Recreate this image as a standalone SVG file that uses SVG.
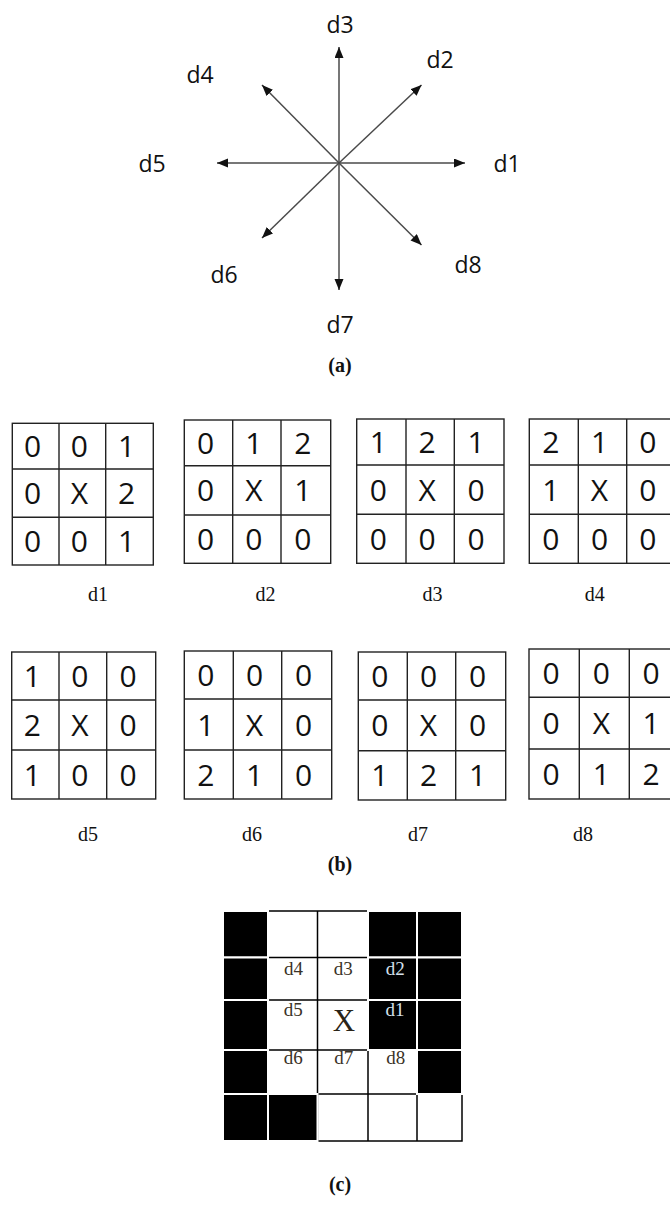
<svg xmlns="http://www.w3.org/2000/svg" width="670" height="1205" viewBox="0 0 670 1205">
<defs>
<marker id="ah" markerUnits="userSpaceOnUse" markerWidth="12" markerHeight="10" refX="11" refY="4.5" orient="auto">
<path d="M0,0 L11,4.5 L0,9 z" fill="#111"/>
</marker>
<style>
.arr{stroke:#4a4a4a;stroke-width:1.5;fill:none;marker-end:url(#ah)}
.cl{font-family:"Open Sans","DejaVu Sans",sans-serif;font-size:23px;fill:#111;text-anchor:middle}
.cap{font-family:"Liberation Serif","Times New Roman",serif;font-size:20px;font-weight:bold;fill:#111;text-anchor:middle}
.gl{font-family:"Liberation Serif","Times New Roman",serif;font-size:20px;fill:#111;text-anchor:middle}
.g{fill:#fff;stroke:#222;stroke-width:1.4}
.gi{stroke:#222;stroke-width:1.4;fill:none}
.dg{font-family:"Open Sans","DejaVu Sans",sans-serif;font-size:30px;fill:#111;text-anchor:middle}
.cb{fill:#000;stroke:#fff;stroke-width:2}
.cline{stroke:#000;stroke-width:1.5;fill:none}
.ct{font-family:"Liberation Serif","Times New Roman",serif;font-size:19px;text-anchor:middle;fill:#3a3226}
.ctw{font-family:"Liberation Serif","Times New Roman",serif;font-size:19px;text-anchor:middle;fill:#d4e0ec}
</style>
</defs>
<rect width="670" height="1205" fill="#fff"/>

<!-- (a) compass -->
<g id="connectors">
<line class="arr" x1="339" y1="163" x2="465" y2="163"/>
<line class="arr" x1="339" y1="163" x2="217" y2="163"/>
<line class="arr" x1="339" y1="163" x2="339" y2="47"/>
<line class="arr" x1="339" y1="163" x2="339" y2="290"/>
<line class="arr" x1="339" y1="163" x2="421.5" y2="85"/>
<line class="arr" x1="339" y1="163" x2="262" y2="85"/>
<line class="arr" x1="339" y1="163" x2="262" y2="238"/>
<line class="arr" x1="339" y1="163" x2="421.5" y2="245"/>
</g>
<g id="label-d1"><text class="cl" x="507" y="172">d1</text></g>
<g id="label-d2"><text class="cl" x="440" y="68">d2</text></g>
<g id="label-d3"><text class="cl" x="340" y="33">d3</text></g>
<g id="label-d4"><text class="cl" x="200" y="83">d4</text></g>
<g id="label-d5"><text class="cl" x="152" y="172">d5</text></g>
<g id="label-d6"><text class="cl" x="224" y="283">d6</text></g>
<g id="label-d7"><text class="cl" x="340" y="333">d7</text></g>
<g id="label-d8"><text class="cl" x="468" y="273">d8</text></g>
<g id="caption-a"><text class="cap" x="340" y="372">(a)</text></g>

<!-- (b) grids row 1 -->
<g id="grid-d1">
<rect class="g" x="12.3" y="423.3" width="141" height="141.7"/>
<path class="gi" d="M59,423.3V565M105.7,423.3V565M12.3,469H153.3M12.3,517.3H153.3"/>
<text class="dg" x="32.7" y="457">0</text><text class="dg" x="79.4" y="457">0</text><text class="dg" x="126.5" y="457">1</text>
<text class="dg" x="32.7" y="504">0</text><text class="dg" x="79.4" y="504">X</text><text class="dg" x="126.5" y="504">2</text>
<text class="dg" x="32.7" y="552">0</text><text class="dg" x="79.4" y="552">0</text><text class="dg" x="126.5" y="552">1</text>
<text class="gl" x="98" y="601">d1</text>
</g>
<g id="grid-d2">
<rect class="g" x="184.3" y="420" width="146.4" height="143.3"/>
<path class="gi" d="M232.7,420V563.3M281,420V563.3M184.3,465.7H330.7M184.3,515H330.7"/>
<text class="dg" x="205.5" y="454">0</text><text class="dg" x="253.9" y="454">1</text><text class="dg" x="302.9" y="454">2</text>
<text class="dg" x="205.5" y="501">0</text><text class="dg" x="253.9" y="501">X</text><text class="dg" x="302.9" y="501">1</text>
<text class="dg" x="205.5" y="550">0</text><text class="dg" x="253.9" y="550">0</text><text class="dg" x="302.9" y="550">0</text>
<text class="gl" x="265.5" y="601">d2</text>
</g>
<g id="grid-d3">
<rect class="g" x="356.7" y="419" width="147.3" height="144.3"/>
<path class="gi" d="M406,419V563.3M454.3,419V563.3M356.7,465H504M356.7,514.3H504"/>
<text class="dg" x="378.4" y="453">1</text><text class="dg" x="427.2" y="453">2</text><text class="dg" x="476.2" y="453">1</text>
<text class="dg" x="378.4" y="500.7">0</text><text class="dg" x="427.2" y="500.7">X</text><text class="dg" x="476.2" y="500.7">0</text>
<text class="dg" x="378.4" y="549.8">0</text><text class="dg" x="427.2" y="549.8">0</text><text class="dg" x="476.2" y="549.8">0</text>
<text class="gl" x="432.5" y="601">d3</text>
</g>
<g id="grid-d4">
<rect class="g" x="529.3" y="419" width="146.7" height="144.3"/>
<path class="gi" d="M578.3,419V563.3M626.7,419V563.3M529.3,465H676M529.3,514.3H676"/>
<text class="dg" x="550.8" y="453">2</text><text class="dg" x="599.5" y="453">1</text><text class="dg" x="647.9" y="453">0</text>
<text class="dg" x="550.8" y="500.7">1</text><text class="dg" x="599.5" y="500.7">X</text><text class="dg" x="647.9" y="500.7">0</text>
<text class="dg" x="550.8" y="549.8">0</text><text class="dg" x="599.5" y="549.8">0</text><text class="dg" x="647.9" y="549.8">0</text>
<text class="gl" x="594.7" y="601">d4</text>
</g>

<!-- (b) grids row 2 -->
<g id="grid-d5">
<rect class="g" x="11.7" y="652" width="144" height="147"/>
<path class="gi" d="M59,652V799M106.7,652V799M11.7,700H155.7M11.7,750H155.7"/>
<text class="dg" x="32.4" y="687">1</text><text class="dg" x="79.9" y="687">0</text><text class="dg" x="128.2" y="687">0</text>
<text class="dg" x="32.4" y="736">2</text><text class="dg" x="79.9" y="736">X</text><text class="dg" x="128.2" y="736">0</text>
<text class="dg" x="32.4" y="785.5">1</text><text class="dg" x="79.9" y="785.5">0</text><text class="dg" x="128.2" y="785.5">0</text>
<text class="gl" x="88" y="841">d5</text>
</g>
<g id="grid-d6">
<rect class="g" x="184.3" y="651" width="147.4" height="148"/>
<path class="gi" d="M233.3,651V799M281.7,651V799M184.3,699H331.7M184.3,750H331.7"/>
<text class="dg" x="205.8" y="686">0</text><text class="dg" x="254.5" y="686">0</text><text class="dg" x="303.7" y="686">0</text>
<text class="dg" x="205.8" y="735.5">1</text><text class="dg" x="254.5" y="735.5">X</text><text class="dg" x="303.7" y="735.5">0</text>
<text class="dg" x="205.8" y="785.5">2</text><text class="dg" x="254.5" y="785.5">1</text><text class="dg" x="303.7" y="785.5">0</text>
<text class="gl" x="252" y="841">d6</text>
</g>
<g id="grid-d7">
<rect class="g" x="358.3" y="652" width="147.4" height="148"/>
<path class="gi" d="M407.3,652V800M455.7,652V800M358.3,700H505.7M358.3,750.7H505.7"/>
<text class="dg" x="379.8" y="687">0</text><text class="dg" x="428.5" y="687">0</text><text class="dg" x="477.7" y="687">0</text>
<text class="dg" x="379.8" y="736.4">0</text><text class="dg" x="428.5" y="736.4">X</text><text class="dg" x="477.7" y="736.4">0</text>
<text class="dg" x="379.8" y="786.4">1</text><text class="dg" x="428.5" y="786.4">2</text><text class="dg" x="477.7" y="786.4">1</text>
<text class="gl" x="418" y="841">d7</text>
</g>
<g id="grid-d8">
<rect class="g" x="529" y="649" width="150" height="150"/>
<path class="gi" d="M579.3,649V799M629.3,649V799M529,697.3H679M529,749H679"/>
<text class="dg" x="551.2" y="684">0</text><text class="dg" x="601.3" y="684">0</text><text class="dg" x="651.2" y="684">0</text>
<text class="dg" x="551.2" y="734">0</text><text class="dg" x="601.3" y="734">X</text><text class="dg" x="651.2" y="734">1</text>
<text class="dg" x="551.2" y="785">0</text><text class="dg" x="601.3" y="785">1</text><text class="dg" x="651.2" y="785">2</text>
<text class="gl" x="583" y="841">d8</text>
</g>
<g id="caption-b"><text class="cap" x="340" y="871">(b)</text></g>

<!-- (c) -->
<g id="grid-c">
<rect x="223" y="911" width="239" height="230" fill="#fff" stroke="#000" stroke-width="1.5"/>
<path class="cline" d="M268,911V1141M317.5,911V1141M368,911V1141M417,911V1141M223,957.5H462M223,1000H462M223,1050H462M223,1094H462"/>
<rect class="cb" x="223" y="911" width="45" height="46.5"/>
<rect class="cb" x="368" y="911" width="49" height="46.5"/>
<rect class="cb" x="417" y="911" width="45" height="46.5"/>
<rect class="cb" x="223" y="957.5" width="45" height="42.5"/>
<rect class="cb" x="368" y="957.5" width="49" height="42.5"/>
<rect class="cb" x="417" y="957.5" width="45" height="42.5"/>
<rect class="cb" x="223" y="1000" width="45" height="50"/>
<rect class="cb" x="368" y="1000" width="49" height="50"/>
<rect class="cb" x="417" y="1000" width="45" height="50"/>
<rect class="cb" x="223" y="1050" width="45" height="44"/>
<rect class="cb" x="417" y="1050" width="45" height="44"/>
<rect class="cb" x="223" y="1094" width="45" height="47"/>
<rect class="cb" x="268" y="1094" width="49.5" height="47"/>
<text class="ct" x="293.5" y="975">d4</text>
<text class="ct" x="343.3" y="975">d3</text>
<text class="ctw" x="395.3" y="975">d2</text>
<text class="ct" x="293.3" y="1016">d5</text>
<text x="344" y="1031" font-family="Liberation Serif,Times New Roman,serif" font-size="31" text-anchor="middle" fill="#2a2418">X</text>
<text class="ctw" x="395" y="1016">d1</text>
<text class="ct" x="293.3" y="1064">d6</text>
<text class="ct" x="343.7" y="1064">d7</text>
<text class="ct" x="395.7" y="1064">d8</text>
</g>
<g id="caption-c"><text class="cap" x="340" y="1191">(c)</text></g>
</svg>
